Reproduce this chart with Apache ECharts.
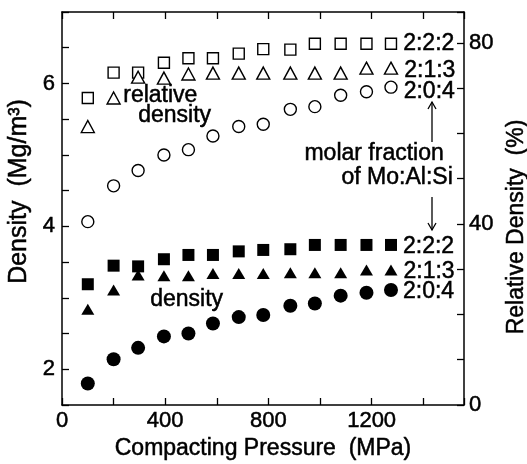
<!DOCTYPE html>
<html>
<head>
<meta charset="utf-8">
<script src="https://cdn.jsdelivr.net/npm/echarts@6/dist/echarts.min.js"></script>
<style>
html,body{margin:0;padding:0;background:#fff;}
#c{width:527px;height:464px;}
</style>
</head>
<body>
<div id="c"></div>
<script>
// Compacting pressure (MPa)
const pressure = [100, 200, 295, 395, 490, 585, 685, 780, 885, 980, 1080, 1180, 1275];
// Green density (Mg/m^3), filled markers, left axis
const density222 = [3.19, 3.45, 3.44, 3.54, 3.60, 3.60, 3.65, 3.67, 3.68, 3.74, 3.74, 3.74, 3.74];
const density213 = [2.84, 3.11, 3.32, 3.31, 3.31, 3.34, 3.34, 3.34, 3.35, 3.35, 3.35, 3.39, 3.39];
const density204 = [1.80, 2.14, 2.30, 2.46, 2.50, 2.64, 2.73, 2.76, 2.89, 2.92, 3.03, 3.07, 3.11];
// Relative density (%), open markers, right axis
const rel222 = [67.8, 73.4, 73.4, 75.6, 76.6, 76.6, 77.6, 78.6, 78.5, 79.8, 79.8, 79.8, 79.8];
const rel213 = [61.5, 67.8, 72.4, 72.2, 73.1, 73.3, 73.3, 73.3, 73.3, 73.3, 73.3, 74.4, 74.4];
const rel204 = [40.5, 48.4, 51.8, 55.2, 56.4, 59.4, 61.5, 62.0, 65.3, 65.9, 68.4, 69.2, 70.2];
// Composition labels (Mo:Al:Si)
const compositions = ['2:2:2', '2:1:3', '2:0:4'];
// Tick labels
const xTickLabels = [0, 400, 800, 1200];
const yLeftTickLabels = [2, 4, 6];
const yRightTickLabels = [0, 40, 80];

const FONT = '"Liberation Sans", Arial, Helvetica, sans-serif';
const FS = 23;
const TB = { textBorderColor: '#000', textBorderWidth: 0.5 };

function build(vals, lab, dist, dy) {
  return pressure.map((p, i) => {
    if (i === pressure.length - 1) {
      return {
        value: [p, vals[i]],
        label: Object.assign({
          show: true, position: 'right', distance: dist, offset: [0, dy],
          formatter: lab, color: '#000', fontFamily: FONT, fontSize: FS
        }, TB)
      };
    }
    return [p, vals[i]];
  });
}

function scat(name, vals, yIdx, symbol, size, filled, lab, dist, dy) {
  return {
    name: name, type: 'scatter', yAxisIndex: yIdx, xAxisIndex: 0,
    symbol: symbol, symbolSize: size,
    itemStyle: filled ? { color: '#000', opacity: 1 } : { color: '#fff', borderColor: '#000', borderWidth: 1.4, opacity: 1 },
    emphasis: { disabled: true },
    data: build(vals, lab, dist, dy)
  };
}

function axisBase() {
  return {
    axisLine: { show: true, onZero: false, lineStyle: { color: '#000', width: 1.5 } },
    axisTick: { show: true, inside: true, length: 7, lineStyle: { color: '#000', width: 1.3 } },
    splitLine: { show: false }
  };
}
function lab(size, margin, list) {
  return Object.assign({
    color: '#000', fontFamily: FONT, fontSize: size, margin: margin,
    formatter: v => list.indexOf(v) >= 0 ? String(v) : ''
  }, TB);
}

const chart = echarts.init(document.getElementById('c'), null, { renderer: 'canvas' });
chart.setOption({
  animation: false,
  backgroundColor: '#fff',
  grid: { left: 62, right: 63, top: 12, bottom: 59, containLabel: false, outerBoundsMode: 'none' },
  xAxis: [
    Object.assign(axisBase(), {
      type: 'value', min: 0, max: 1558, interval: 200, position: 'bottom',
      name: 'Compacting Pressure  (MPa)', nameLocation: 'middle', nameGap: 31,
      nameTextStyle: Object.assign({ color: '#000', fontFamily: FONT, fontSize: FS }, TB),
      axisLabel: lab(22, 5, xTickLabels)
    }),
    Object.assign(axisBase(), {
      type: 'value', min: 0, max: 1558, interval: 200, position: 'top',
      axisLabel: { show: false }
    })
  ],
  yAxis: [
    Object.assign(axisBase(), {
      type: 'value', min: 1.5, max: 7.0, interval: 0.5, position: 'left',
      name: 'Density  (Mg/m³)', nameLocation: 'middle', nameGap: 24,
      nameTextStyle: Object.assign({ color: '#000', fontFamily: FONT, fontSize: 25, padding: [0, 0, 0, 34] }, TB),
      axisLabel: lab(22, 7, yLeftTickLabels)
    }),
    Object.assign(axisBase(), {
      type: 'value', min: 0, max: 86.8, interval: 10, position: 'right',
      name: 'Relative Density  (%)', nameLocation: 'middle', nameGap: 37,
      nameTextStyle: Object.assign({ color: '#000', fontFamily: FONT, fontSize: FS, padding: [0, 37, 0, 0] }, TB),
      axisLabel: lab(22, 5, yRightTickLabels)
    })
  ],
  series: [
    scat('rel 2:2:2', rel222, 1, 'rect', 11, false, compositions[0], 6, 0),
    scat('rel 2:1:3', rel213, 1, 'triangle', [13, 12], false, compositions[1], 6, 3),
    scat('rel 2:0:4', rel204, 1, 'circle', 12, false, compositions[2], 6, 4),
    scat('den 2:2:2', density222, 0, 'rect', 12, true, compositions[0], 6, 2),
    scat('den 2:1:3', density213, 0, 'triangle', [13, 11], true, compositions[1], 6, 2),
    scat('den 2:0:4', density204, 0, 'circle', 14, true, compositions[2], 5, 2)
  ],
  graphic: [
    { type: 'text', left: 123, top: 84, style: { text: 'relative', font: FS + 'px ' + FONT, fill: '#000', stroke: '#000', lineWidth: 0.5 } },
    { type: 'text', left: 138, top: 104, style: { text: 'density', font: FS + 'px ' + FONT, fill: '#000', stroke: '#000', lineWidth: 0.5 } },
    { type: 'text', left: 150, top: 288, style: { text: 'density', font: FS + 'px ' + FONT, fill: '#000', stroke: '#000', lineWidth: 0.5 } },
    { type: 'text', right: 83, top: 142, style: { text: 'molar fraction', font: FS + 'px ' + FONT, fill: '#000', stroke: '#000', lineWidth: 0.5 } },
    { type: 'text', right: 74, top: 166, style: { text: 'of Mo:Al:Si', font: FS + 'px ' + FONT, fill: '#000', stroke: '#000', lineWidth: 0.5 } },
    { type: 'polyline', shape: { points: [[432, 142], [432, 102]] }, style: { stroke: '#000', lineWidth: 1.3, fill: null } },
    { type: 'polyline', shape: { points: [[428, 109], [432, 102], [436, 109]] }, style: { stroke: '#000', lineWidth: 1.3, fill: null } },
    { type: 'polyline', shape: { points: [[432, 197], [432, 230]] }, style: { stroke: '#000', lineWidth: 1.3, fill: null } },
    { type: 'polyline', shape: { points: [[428, 223], [432, 230], [436, 223]] }, style: { stroke: '#000', lineWidth: 1.3, fill: null } }
  ]
});
</script>
</body>
</html>
